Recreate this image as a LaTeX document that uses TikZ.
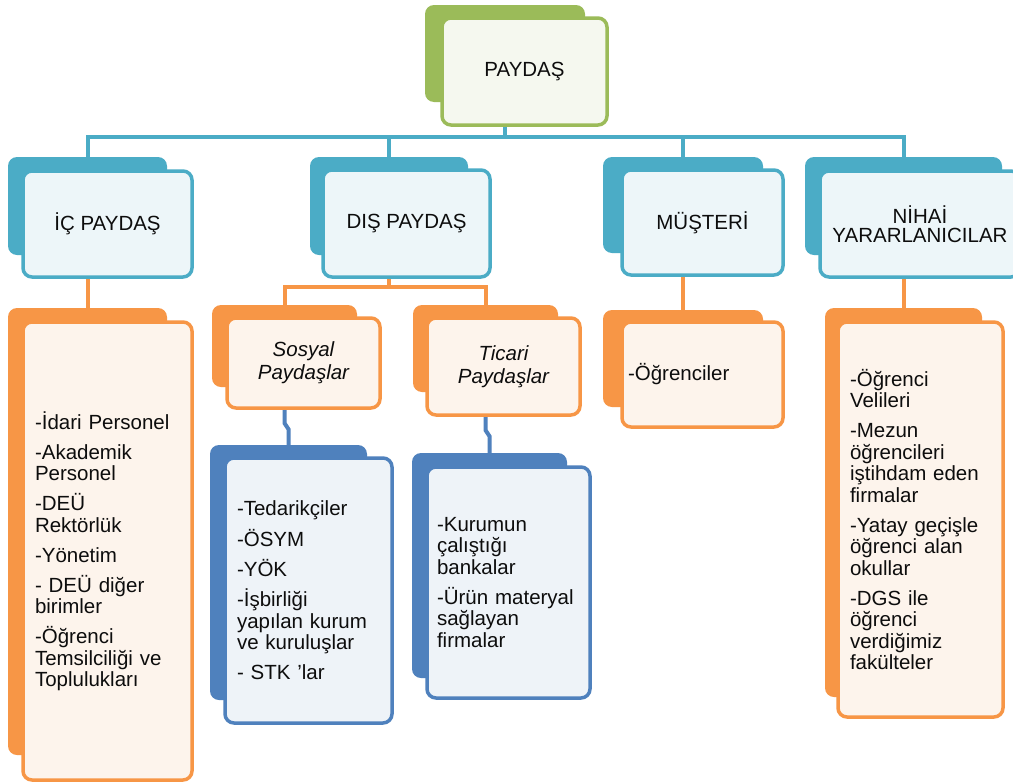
\documentclass[tikz,border=0pt]{standalone}
\usepackage{fontspec}
\setmainfont{Liberation Sans}
\definecolor{aqua}{HTML}{4BACC6}
\definecolor{aqual}{HTML}{EDF6F9}
\definecolor{org}{HTML}{F79646}
\definecolor{orgl}{HTML}{FDF4EC}
\definecolor{dbl}{HTML}{4F81BD}
\definecolor{dbll}{HTML}{EEF3F8}
\definecolor{grn}{HTML}{9BBB59}
\definecolor{grnl}{HTML}{F5F8EF}
\definecolor{txt}{HTML}{0D0D0D}
\pgfdeclarelayer{paper}
\pgfdeclarelayer{links}
\pgfsetlayers{paper,links,main}
% name, x1, y1, x2, y2, style, text
\newcommand\bx[7]{\node[inner sep=0pt,#6,minimum width={(#4-#2)*1pt},minimum height={(#5-#3)*1pt}] (#1) at ({(#2+#4)/2},{(#3+#5)/2}) {#7};}
\begin{document}
\begin{tikzpicture}[x=1pt,y=-1pt,
  every node/.style={font=\fontsize{20.5}{21.5}\selectfont, text=txt},
  backbox/.style={rounded corners=9pt, fill=#1, draw=none},
  frontbox/.style={rounded corners=9pt, draw=#1, fill=#1l, line width=3.5pt},
  head/.style={align=center},
  body/.style={align=left, text width=#1},
  link/.style={draw=#1, line width=4pt},
]
\begin{pgfonlayer}{paper}
\fill[white] (0,0) rectangle (1013,782);
\end{pgfonlayer}
\useasboundingbox (0,0) rectangle (1013,782);

% top
\bx{paydasb}{425}{5}{585}{102}{backbox=grn}{}
\bx{paydas}{442}{18}{607}{125}{frontbox=grn,head}{PAYDAŞ}

% level 1
\bx{icb}{8}{157}{167}{255}{backbox=aqua}{}
\bx{ic}{23}{171}{192}{277}{frontbox=aqua,head}{İÇ PAYDAŞ}
\bx{disb}{310}{157}{468}{255}{backbox=aqua}{}
\bx{dis}{323}{170}{490}{277}{frontbox=aqua,head}{DIŞ PAYDAŞ}
\bx{musb}{603}{157}{763}{253}{backbox=aqua}{}
\bx{mus}{622}{170}{783}{275}{frontbox=aqua,head}{MÜŞTERİ}
\bx{nihb}{805}{157}{1002}{255}{backbox=aqua}{}
\bx{nih}{820}{171}{1020}{277}{frontbox=aqua,head}{NİHAİ\\[-3pt]YARARLANICILAR}

% level 2
\bx{iccb}{8}{308}{167}{755}{backbox=org}{}
\bx{icc}{23}{322}{192}{780}{frontbox=org,body=145pt,inner xsep=12pt}{-İdari Personel\\[8.5pt]-Akademik\\Personel\\[8.5pt]-DEÜ\\Rektörlük\\[8.5pt]-Yönetim\\[8.5pt]- DEÜ diğer\\birimler\\[8.5pt]-Öğrenci\\Temsilciliği ve\\Toplulukları}
\bx{sosb}{212}{305}{357}{387}{backbox=org}{}
\bx{sos}{227}{318}{380}{408}{frontbox=org,head,font=\fontsize{20.5}{23}\selectfont\itshape}{Sosyal\\Paydaşlar}
\bx{ticb}{413}{305}{558}{392}{backbox=org}{}
\bx{tic}{427}{318}{580}{415}{frontbox=org,head,font=\fontsize{20.5}{23}\selectfont\itshape}{Ticari\\Paydaşlar}
\bx{muscb}{603}{310}{763}{407}{backbox=org}{}
\bx{musc}{622}{322}{783}{427}{frontbox=org,body=149pt,inner xsep=6pt}{-Öğrenciler}
\bx{nihcb}{825}{308}{982}{697}{backbox=org}{}
\bx{nihc}{838}{322}{1003}{717}{frontbox=org,body=141pt,inner xsep=12pt}{-Öğrenci\\Velileri\\[8.5pt]-Mezun\\öğrencileri\\iştihdam eden\\firmalar\\[8.5pt]-Yatay geçişle\\öğrenci alan\\okullar\\[8.5pt]-DGS ile\\öğrenci\\verdiğimiz\\fakülteler}

% level 3
\bx{soscb}{210}{445}{367}{700}{backbox=dbl}{}
\bx{sosc}{225}{458}{392}{723}{frontbox=dbl,body=143pt,inner xsep=12pt}{-Tedarikçiler\\[8.5pt]-ÖSYM\\[8.5pt]-YÖK\\[8.5pt]-İşbirliği\\yapılan kurum\\ve kuruluşlar\\[8.5pt]- STK 'lar}
\bx{ticcb}{412}{453}{567}{678}{backbox=dbl}{}
\bx{ticc}{427}{467}{590}{698}{frontbox=dbl,body=143pt,inner xsep=10pt}{-Kurumun\\çalıştığı\\bankalar\\[8.5pt]-Ürün materyal\\sağlayan\\firmalar}

% connectors
\begin{pgfonlayer}{links}
\coordinate (bus) at (505,137);
\draw[link=aqua] (paydasb.south) -- (bus) -| (icb.north);
\draw[link=aqua] (bus) -| (disb.north);
\draw[link=aqua] (bus) -| (musb.north);
\draw[link=aqua] (bus) -| (nihb.north);
\draw[link=org] (icb.south) -- (iccb.north);
\draw[link=org] (musb.south) -- (muscb.north);
\draw[link=org] (nihb.south) -- (nihcb.north);
\coordinate (dbus) at (389,287);
\draw[link=org] (disb.south) -- (dbus) -| (sosb.north);
\draw[link=org] (dbus) -| (ticb.north);
\draw[link=dbl] (sosb.south) -- ++(0,36) -- ++(4,6) -- (soscb.north);
\draw[link=dbl] (ticb.south) -- ++(0,38) -- ++(4,6) -- (ticcb.north);
\end{pgfonlayer}
\end{tikzpicture}
\end{document}
